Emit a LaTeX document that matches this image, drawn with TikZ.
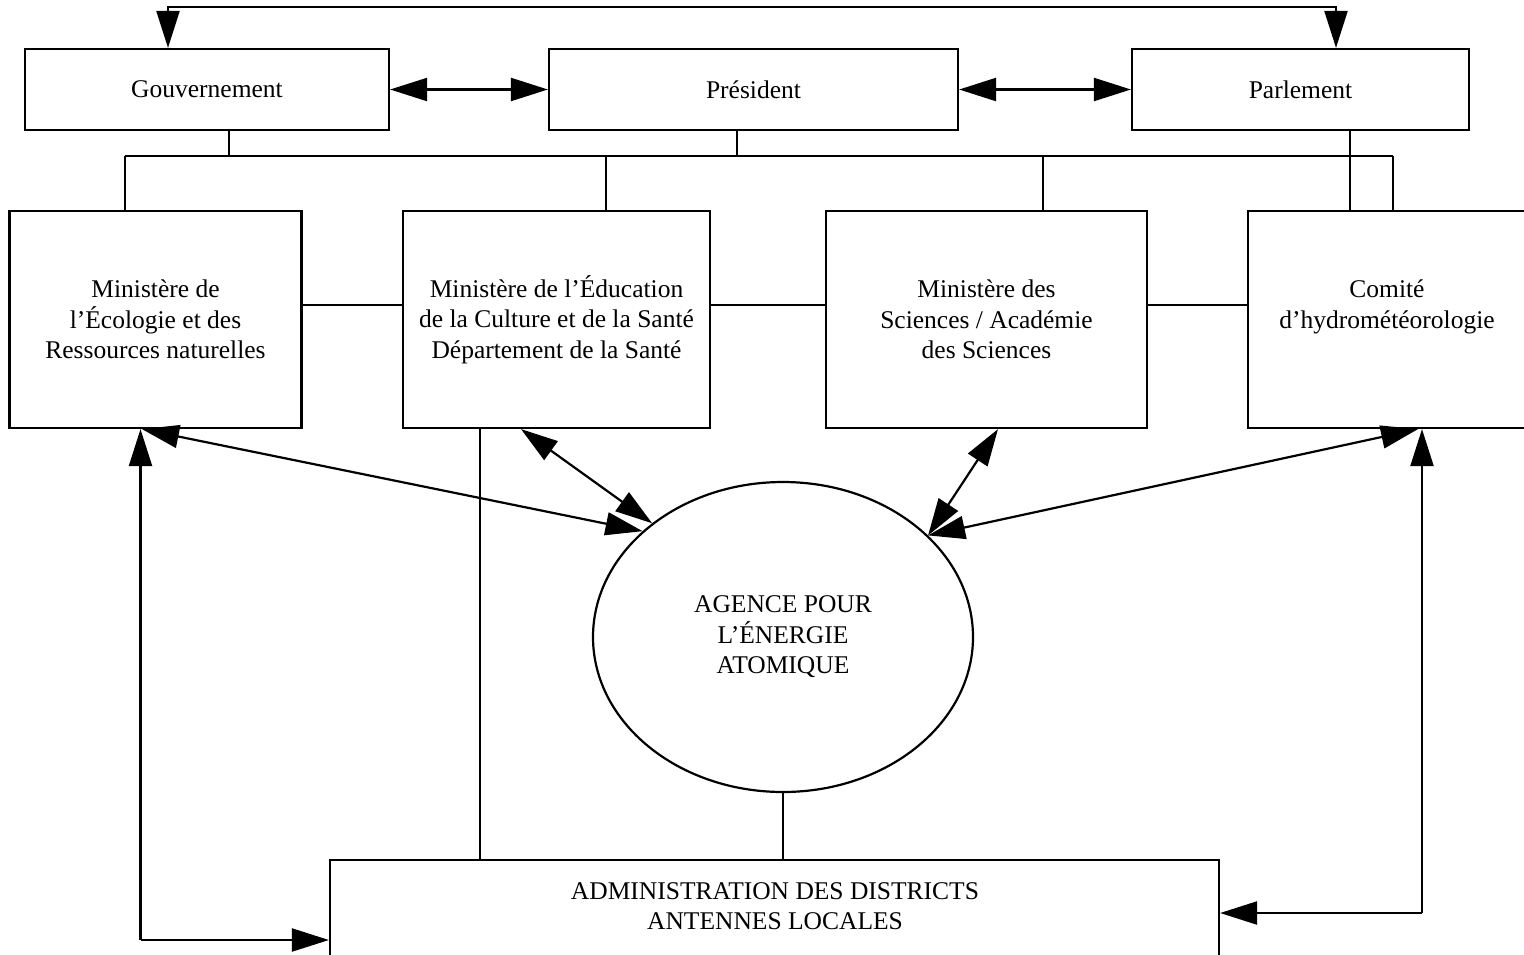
\documentclass[tikz,border=0pt]{standalone}
\usepackage{fontspec}
\setmainfont{Liberation Serif}
\usetikzlibrary{arrows.meta,shapes.geometric}
\begin{document}
\begin{tikzpicture}[x=1pt,y=-1pt,
  line width=2.2pt,
  >={Triangle[length=37pt,width=23pt]},
  lbl/.style={font=\fontsize{25.5}{30.5}\selectfont, align=center},
  box/.style={draw, rectangle, inner sep=0pt, lbl},
  topbox/.style={box, minimum height=81pt},
  minbox/.style={box, minimum height=217pt},
  thinline/.style={line width=1.6pt}]
\clip (0,0) rectangle (1524,954);

% top level
\node[topbox, minimum width=364pt] (gouv) at (207,89.5) {Gouvernement};
\node[topbox, minimum width=409pt] (pres) at (753.5,89.5) {Président};
\node[topbox, minimum width=337pt] (parl) at (1300.5,89.5) {Parlement};

% ministries
\node[minbox, minimum width=292pt] (eco) at (155.5,319.5)
  {Ministère de\\l’Écologie et des\\Ressources naturelles};
\node[minbox, minimum width=307pt] (edu) at (556.5,319.5)
  {Ministère de l’Éducation\\de la Culture et de la Santé\\Département de la Santé};
\node[minbox, minimum width=321pt] (sci) at (986.5,319.5)
  {Ministère des\\Sciences / Académie\\des Sciences};
\node[minbox, minimum width=278pt] (hydro) at (1387,319.5)
  {Comité\\d’hydrométéorologie\\\mbox{}};

% agency
\node[draw, ellipse, inner sep=0pt, minimum width=380pt, minimum height=310pt, lbl]
  (agence) at (783,637) {AGENCE POUR\\L’ÉNERGIE\\ATOMIQUE};

% districts
\node[draw, rectangle, inner sep=0pt, minimum width=889pt, minimum height=130pt]
  (admin) at (774.5,925) {};
\node[lbl] (admintext) at (775,906) {ADMINISTRATION DES DISTRICTS\\ANTENNES LOCALES};

% feedback line along the top
\coordinate (topL) at (168,7);
\coordinate (topR) at (1336,7);
\draw[<->] (gouv.north -| topL) -- (topL) -- (topR) -- (parl.north -| topR);

% links between the top boxes
\draw[<->] (gouv.east) -- (pres.west);
\draw[<->] (pres.east) -- (parl.west);

% bus to the ministries
\coordinate (busL) at (125,156);
\coordinate (busR) at (1393,156);
\draw (busL) -- (busR);
\draw (gouv.south -| 229,0) -- (busL -| 229,0);
\draw (pres.south -| 737,0) -- (busL -| 737,0);
\draw (busL) -- (eco.north -| busL);
\draw (busL -| 606,0) -- (edu.north -| 606,0);
\draw (busL -| 1043,0) -- (sci.north -| 1043,0);
\draw (busR) -- (hydro.north -| busR);
\draw (parl.south -| 1350,0) -- (hydro.north -| 1350,0);

% links between ministries
\draw (eco.east |- 0,305) -- (edu.west |- 0,305);
\draw (edu.east |- 0,305) -- (sci.west |- 0,305);
\draw (sci.east |- 0,305) -- (hydro.west |- 0,305);

% ministries and the agency
\draw[<->] (eco.south -| 142,0) -- (agence.143);
\draw[<->] (edu.south -| 521,0) -- (agence.139);
\draw[<->] (sci.south -| 998,0) -- (agence.35);
\draw[<->] (hydro.south -| 1418,0) -- (agence.35);

% lines down to the districts
\draw[thinline] (edu.south -| 480,0) -- (admin.north -| 480,0);
\draw (agence.south) -- (admin.north -| agence.south);

% side loops
\coordinate (lc) at (140.5,940);
\draw[->] (lc) -- (eco.south -| lc);
\draw[->] (lc) -- (admin.west |- lc);
\coordinate (rc) at (1422,913);
\draw[->] (rc) -- (hydro.south -| rc);
\draw[->] (rc) -- (admin.east |- rc);
\end{tikzpicture}
\end{document}
